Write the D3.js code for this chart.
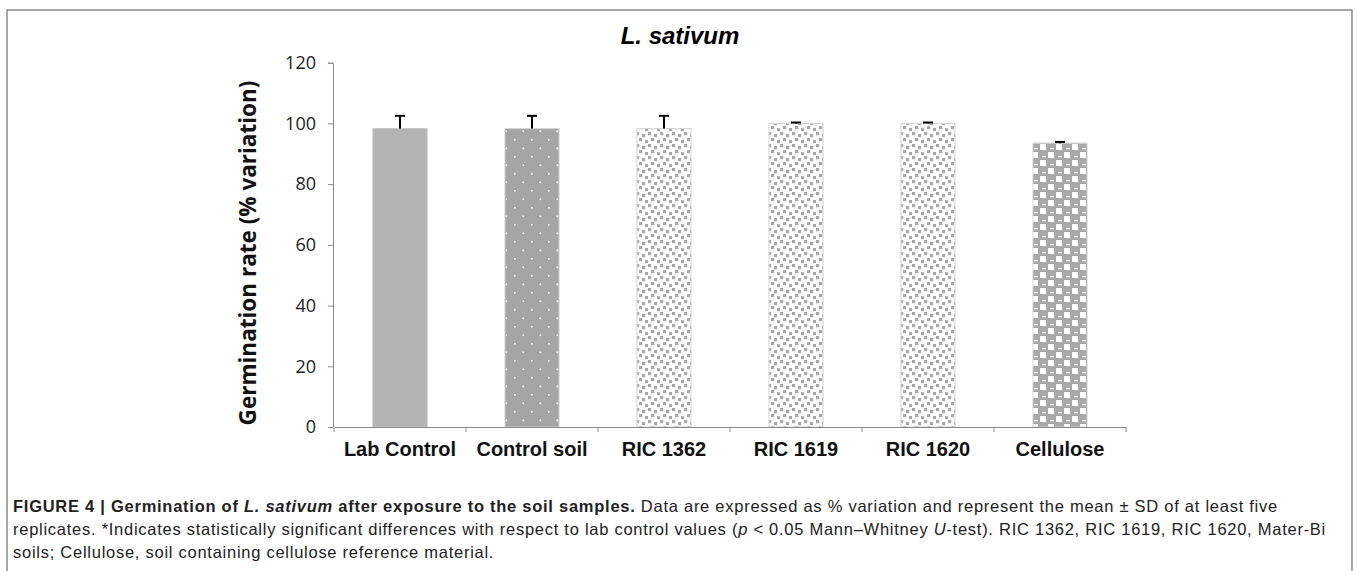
<!DOCTYPE html>
<html><head><meta charset="utf-8">
<script src="https://cdn.jsdelivr.net/npm/d3@7"></script>
<style>html,body{margin:0;padding:0;background:#fff;}svg{display:block;}</style>
</head><body>
<script>
const categories = ["Lab Control", "Control soil", "RIC 1362", "RIC 1619", "RIC 1620", "Cellulose"];
const values = [98.3, 98.3, 98.3, 100, 100, 93.5];
const sdValues = [4.2, 4.2, 4.2, 0.3, 0.3, 0.4];
const yTicks = [0, 20, 40, 60, 80, 100, 120];
const patterns = ["solid", "dots", "confetti", "confetti", "confetti", "weave"];

const W = 1358, H = 571;
const svg = d3.select("body").append("svg").attr("width", W).attr("height", H);
const defs = svg.append("defs");

// patterns
const pDots = defs.append("pattern").attr("id", "dots").attr("patternUnits", "userSpaceOnUse")
  .attr("width", 17).attr("height", 17).attr("x", 4).attr("y", 3);
pDots.append("rect").attr("width", 17).attr("height", 17).attr("fill", "#a5a5a5");
pDots.append("rect").attr("x", 0).attr("y", 0).attr("width", 1.6).attr("height", 1.6).attr("fill", "#fff");
pDots.append("rect").attr("x", 8.5).attr("y", 8.5).attr("width", 1.6).attr("height", 1.6).attr("fill", "#fff");

const pConf = defs.append("pattern").attr("id", "confetti").attr("patternUnits", "userSpaceOnUse")
  .attr("width", 12).attr("height", 12);
pConf.append("rect").attr("width", 12).attr("height", 12).attr("fill", "#fff");
[[0,0],[6,2],[3,6],[9,8]].forEach(([x,y]) =>
  pConf.append("rect").attr("x", x).attr("y", y).attr("width", 3.2).attr("height", 3.2).attr("fill", "#a8a8a8"));

const pWeave = defs.append("pattern").attr("id", "weave").attr("patternUnits", "userSpaceOnUse")
  .attr("width", 16).attr("height", 16);
pWeave.append("rect").attr("width", 16).attr("height", 16).attr("fill", "#a8a8a8");
[[0,0],[8,8]].forEach(([x,y]) =>
  pWeave.append("rect").attr("x", x).attr("y", y).attr("width", 6).attr("height", 6).attr("fill", "#fff"));
[[9,1],[1,9]].forEach(([x,y]) =>
  pWeave.append("rect").attr("x", x + 1).attr("y", y + 3).attr("width", 4).attr("height", 1.2).attr("fill", "#fff"));

// frame
svg.append("rect").attr("x", 7).attr("y", 10).attr("width", 1345).attr("height", 600)
  .attr("fill", "none").attr("stroke", "#8a8a8a").attr("stroke-width", 1.5);

// title
svg.append("text").attr("x", 680).attr("y", 44).attr("text-anchor", "middle")
  .attr("font-family", "Liberation Sans, Arial, sans-serif").attr("font-weight", "bold")
  .attr("font-style", "italic").attr("font-size", 24).text("L. sativum");

const x0 = 334, x1 = 1126, yTop = 62.7, yBot = 427;
const x = d3.scaleBand().domain(categories).range([x0, x1]).paddingInner(0.59).paddingOuter(0.295);
const y = d3.scaleLinear().domain([0, 120]).range([yBot, yTop]);

// y axis
const yAxis = svg.append("g").attr("transform", `translate(${x0 - 1},0)`)
  .call(d3.axisLeft(y).tickValues(yTicks).tickSize(5).tickPadding(12));
yAxis.select(".domain").attr("stroke", "#8a8a8a");
yAxis.selectAll(".tick line").attr("stroke", "#8a8a8a");
yAxis.selectAll(".tick text").attr("font-family", "Open Sans, sans-serif").attr("font-size", 18).attr("fill", "#222");

// bars
svg.append("g").selectAll("rect").data(categories).join("rect")
  .attr("x", d => x(d)).attr("width", x.bandwidth())
  .attr("y", (d, i) => y(values[i])).attr("height", (d, i) => yBot - y(values[i]))
  .attr("fill", (d, i) => patterns[i] === "solid" ? "#b3b3b3" : `url(#${patterns[i]})`)
  .attr("stroke", (d, i) => patterns[i] === "solid" ? "#c4c4c4" : "#d4d4d4").attr("stroke-width", 1);

// error bars (upper)
const eb = svg.append("g").attr("stroke", "#000").attr("stroke-width", 2);
categories.forEach((c, i) => {
  const cx = x(c) + x.bandwidth() / 2;
  eb.append("line").attr("x1", cx).attr("x2", cx).attr("y1", y(values[i])).attr("y2", y(values[i] + sdValues[i]));
  eb.append("line").attr("x1", cx - 5).attr("x2", cx + 5)
    .attr("y1", y(values[i] + sdValues[i])).attr("y2", y(values[i] + sdValues[i]));
});

// x axis
const xAxis = svg.append("g").attr("transform", `translate(0,${yBot})`)
  .call(d3.axisBottom(x).tickSize(0).tickPadding(15));
xAxis.select(".domain").attr("stroke", "#8a8a8a").attr("stroke-width", 1.2);
xAxis.selectAll(".tick text").attr("font-family", "Liberation Sans, Arial, sans-serif")
  .attr("font-weight", "bold").attr("font-size", 20).attr("fill", "#111");
// boundary ticks
const bounds = d3.range(categories.length + 1).map(i => x0 + i * (x1 - x0) / categories.length);
svg.append("g").selectAll("line").data(bounds).join("line")
  .attr("x1", d => d).attr("x2", d => d).attr("y1", yBot).attr("y2", yBot + 5)
  .attr("stroke", "#8a8a8a");

// y label
svg.append("text").attr("transform", `translate(256,253) rotate(-90)`).attr("text-anchor", "middle")
  .attr("font-family", "Open Sans, sans-serif").attr("font-weight", "bold").attr("font-size", 22.5)
  .attr("fill", "#111").text("Germination rate (% variation)");

// caption
const cap = svg.append("g").attr("font-family", "Liberation Sans, Arial, sans-serif")
  .attr("font-size", 16.5).attr("fill", "#222");
const l1 = cap.append("text").attr("x", 13).attr("y", 512);
l1.append("tspan").attr("font-weight", "bold").text("FIGURE 4 | Germination of ");
l1.append("tspan").attr("font-weight", "bold").attr("font-style", "italic").text("L. sativum");
l1.append("tspan").attr("font-weight", "bold").text(" after exposure to the soil samples.");
l1.append("tspan").text(" Data are expressed as % variation and represent the mean \u00b1 SD of at least five");
const l2 = cap.append("text").attr("x", 13).attr("y", 535);
l2.append("tspan").text("replicates. *Indicates statistically significant differences with respect to lab control values (");
l2.append("tspan").attr("font-style", "italic").text("p");
l2.append("tspan").text(" < 0.05 Mann\u2013Whitney ");
l2.append("tspan").attr("font-style", "italic").text("U");
l2.append("tspan").text("-test). RIC 1362, RIC 1619, RIC 1620, Mater-Bi");
const l3 = cap.append("text").attr("x", 13).attr("y", 558).text("soils; Cellulose, soil containing cellulose reference material.");

// fit caption line 2 to reference width via letter-spacing; apply same spacing to all
const w2 = l2.node().getComputedTextLength();
const ls = ((1326 - 13) - w2) / l2.text().length;
cap.attr("letter-spacing", ls);
</script>
</body></html>
